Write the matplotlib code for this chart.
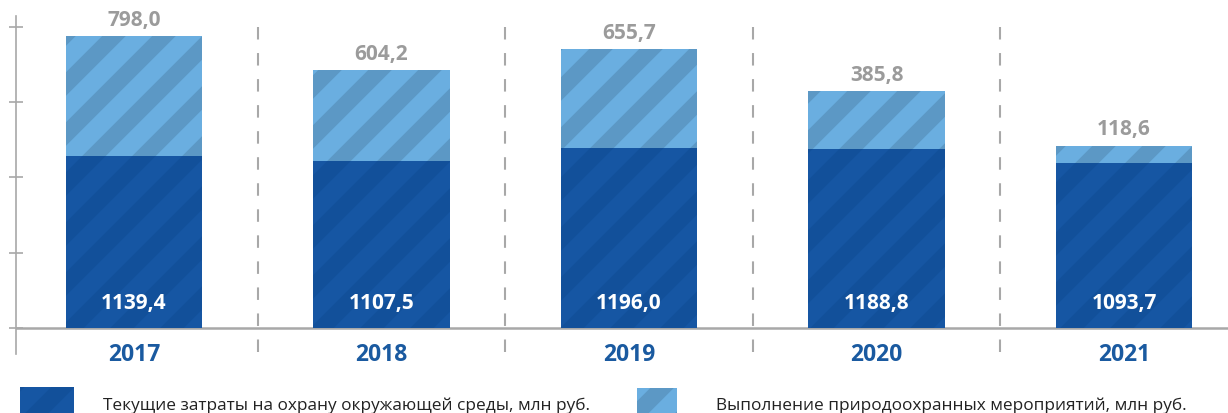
import matplotlib
matplotlib.use("Agg")
import matplotlib.pyplot as plt
from matplotlib.patches import Rectangle

# data
years = ["2017", "2018", "2019", "2020", "2021"]
current_costs = [1139.4, 1107.5, 1196.0, 1188.8, 1093.7]
measures = [798.0, 604.2, 655.7, 385.8, 118.6]
legend_labels = ["Текущие затраты на охрану окружающей среды, млн руб.",
                 "Выполнение природоохранных мероприятий, млн руб."]

DARK, DARK_STRIPE = "#1656A3", "#12509A"
LIGHT, LIGHT_STRIPE = "#6AAEE0", "#5C98C5"
GRID = "#A8A8A8"

plt.rcParams["font.family"] = ["Open Sans", "DejaVu Sans"]
plt.rcParams["hatch.linewidth"] = 8

W, H, DPI = 1228, 414, 150
fig = plt.figure(figsize=(W / DPI, H / DPI), dpi=DPI)
ax = fig.add_axes([16 / W, 59 / H, 1 - 16 / W, 338 / H])

x = list(range(len(years)))
bw = 0.55
ax.bar(x, current_costs, bw, color=DARK, edgecolor=DARK_STRIPE, hatch="/", linewidth=0, zorder=2)
ax.bar(x, measures, bw, bottom=current_costs, color=LIGHT, edgecolor=LIGHT_STRIPE,
       hatch="/", linewidth=0, zorder=2)

for i in x:
    ax.text(i, 166, f"{current_costs[i]:.1f}".replace(".", ","), ha="center", va="center",
            color="white", fontsize=10, fontweight="bold", zorder=3)
    ax.annotate(f"{measures[i]:.1f}".replace(".", ","), (i, current_costs[i] + measures[i]),
                xytext=(0, 8), textcoords="offset points", ha="center", va="center",
                color="#9B9B9B", fontsize=10, fontweight="bold")
    ax.text(i, -173, years[i], ha="center", va="center", color="#1A5AA0",
            fontsize=11, fontweight="bold")

# dashed separators between years
for s in [0.5, 1.5, 2.5, 3.5]:
    ax.axvline(s, ymin=0.005, ymax=0.995, color=GRID, lw=1, ls=(0, (6, 6.5)), zorder=1)

ax.axhline(0, color=GRID, lw=1.2, zorder=1)

ax.set_xlim(-0.477, 4.42)
ax.set_ylim(-173, 2073)
ax.set_yticks([0, 500, 1000, 1500, 2000])
ax.set_yticklabels([])
ax.tick_params(axis="y", direction="inout", length=7, width=0.8, color=GRID)
ax.set_xticks([])
for sp in ["top", "right", "bottom"]:
    ax.spines[sp].set_visible(False)
ax.spines["left"].set_color(GRID)
ax.spines["left"].set_linewidth(0.8)

# legend at bottom
fig.add_artist(Rectangle((20 / W, (414 - 442) / H), 54 / W, 54 / H, transform=fig.transFigure,
                         facecolor=DARK, edgecolor=DARK_STRIPE, hatch="/", linewidth=0))
fig.add_artist(Rectangle((637 / W, (414 - 442) / H), 40 / W, 53 / H, transform=fig.transFigure,
                         facecolor=LIGHT, edgecolor=LIGHT_STRIPE, hatch="/", linewidth=0))
fig.text(103 / W, (414 - 406) / H, legend_labels[0], fontsize=8.3, color="#222222", va="center")
fig.text(716 / W, (414 - 406) / H, legend_labels[1], fontsize=8.3, color="#222222", va="center")

fig.savefig("out.png", dpi=DPI)
